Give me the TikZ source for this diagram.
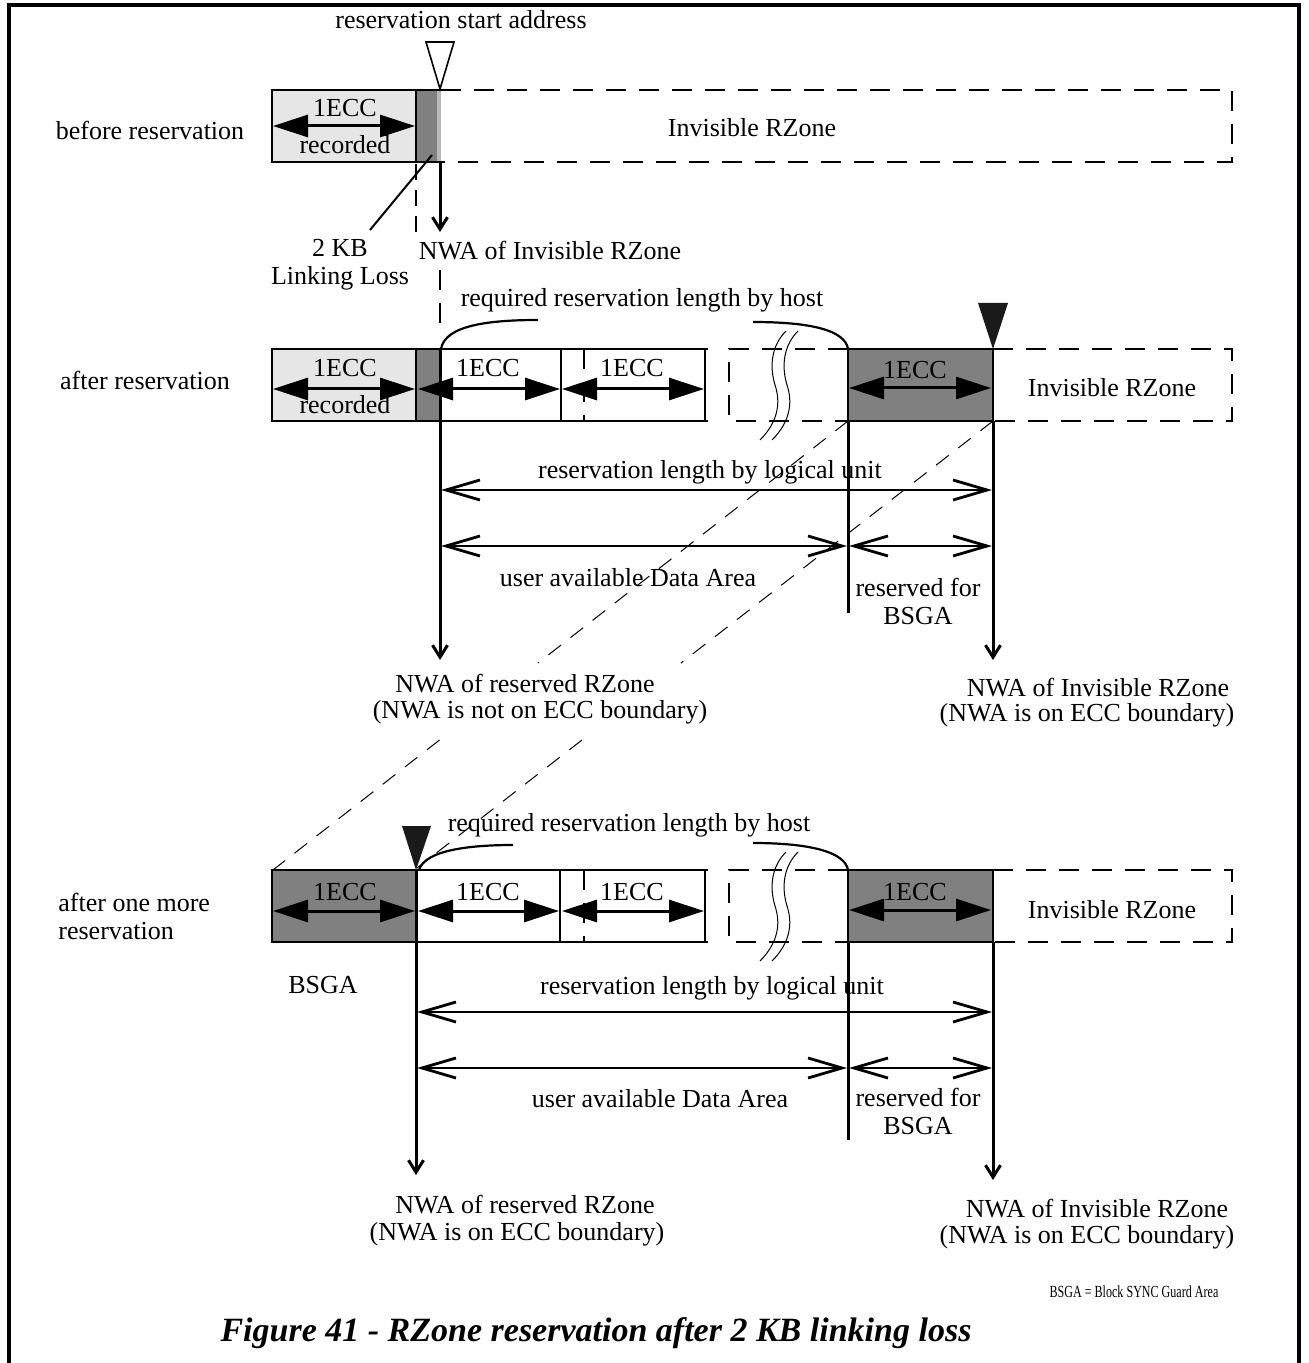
\documentclass[tikz,border=0pt]{standalone}
\usepackage{fontspec}
\setmainfont{Liberation Serif}
\usetikzlibrary{arrows.meta}
\definecolor{dkgray}{HTML}{808080}
\definecolor{ltgray}{HTML}{E6E6E6}
\definecolor{trifill}{HTML}{1A1A1A}
\begin{document}
\begin{tikzpicture}[x=0.5pt,y=-0.5pt,
  txt/.style={inner sep=0pt, font=\fontsize{13}{14}\selectfont, align=center},
  boxline/.style={line width=1.4pt},
  dashbox/.style={line width=1.4pt, dash pattern=on 10pt off 6.5pt},
  ecc/.style={line width=1.5pt, {Triangle[length=17.5pt,width=11pt]}-{Triangle[length=17.5pt,width=11pt]}},
  dim/.style={line width=1.4pt, {Straight Barb[length=17pt,width=10pt]}-{Straight Barb[length=17pt,width=10pt]}},
  downarr/.style={line width=1.5pt, -{Straight Barb[length=6pt,width=7.5pt]}},
  vbar/.style={line width=1.5pt},
  guide/.style={line width=0.5pt, dash pattern=on 8pt off 6pt},
  bracket/.style={line width=1.1pt},
  squig/.pic={
    \draw[line width=0.5pt] (0,109) .. controls (20,89) and (20,69) .. (15,54) .. controls (9,34) and (12,14) .. (26,0);
    \draw[line width=0.5pt] (12,109) .. controls (32,89) and (32,69) .. (27,54) .. controls (21,34) and (24,14) .. (38,0);
  }
]
\useasboundingbox (0,0) rectangle (1308,1363);
% frame
\draw[line width=1.6pt] (9,1363) -- (9,5) -- (1299,5) -- (1299,1363);

% ================= Row 1 =================
\node[txt] (lbl1) at (150,130) {before reservation};
\fill[ltgray] (272,90) rectangle (416,162);
\fill[dkgray] (416,90) rectangle (437,162);
\fill[gray!55] (437,90) rectangle (441,162);
\draw[boxline] (441,90) -- (272,90) -- (272,162) -- (441,162);
\draw[boxline] (416,90) -- (416,162);
\draw[dashbox] (441,90) -- (1232,90) -- (1232,162) -- (441,162);
\draw[ecc] (273,126) -- (415,126);
\node[txt] at (345,108) {1ECC};
\node[txt] at (345,145) {recorded};
\node[txt] at (752,128) {Invisible RZone};
\draw[line width=0.8pt, fill=white] (426,42) -- (454,42) -- (440,89) -- cycle;
\node[txt] (rsa) at (461,20) {reservation start address};
\coordinate (r1top) at (440,162);
\coordinate (r1nwa) at (440,232);
\draw[downarr] (r1top) -- (r1nwa);
\node[txt] (nwa1) at (550,251) {NWA of Invisible RZone};
\draw[line width=1.4pt, dash pattern=on 8pt off 5pt] (416,164) -- (416,232);
\node[txt] (ll) at (340,265) {2 KB\\Linking Loss};
\draw[line width=1pt] (370,230) -- (432,155);
\draw[dashbox] (440,270) -- (440,330);

% ================= Row 2 =================
\node[txt] (lbl2) at (145,380) {after reservation};
\fill[ltgray] (272,349) rectangle (416,421);
\fill[dkgray] (416,349) rectangle (440,421);
\draw[boxline] (708,349) -- (272,349) -- (272,421) -- (708,421);
\draw[boxline] (416,349) -- (416,421);
\draw[boxline] (561,349) -- (561,421);
\draw[boxline] (705,349) -- (705,421);
\draw[dashbox] (584,349) -- (584,421);
\draw[dashbox] (848,349) -- (729,349) -- (729,421) -- (848,421);
\filldraw[fill=dkgray, boxline] (848,349) rectangle (993,421);
\draw[dashbox] (993,349) -- (1232,349) -- (1232,421) -- (993,421);
\draw[ecc] (273,389) -- (415,389);
\draw[ecc] (418,389) -- (560,389);
\draw[ecc] (562,389) -- (704,389);
\draw[ecc] (849,388) -- (991,388);
\node[txt] at (345,368) {1ECC};
\node[txt] at (345,405) {recorded};
\node[txt] at (488,368) {1ECC};
\node[txt] at (632,368) {1ECC};
\node[txt] at (915,370) {1ECC};
\node[txt] at (1112,388) {Invisible RZone};
\fill[trifill] (978,303) -- (1008,303) -- (993,349) -- cycle;
\node[txt] (req2) at (642,300) {required reservation length by host};
\draw[bracket] (441,349) .. controls (445,325) and (490,320) .. (538,320);
\draw[bracket] (753,322) .. controls (810,322) and (845,330) .. (848,349);
\pic at (760,331) {squig};
% verticals row 2
\coordinate (r2a) at (440,349);
\coordinate (r2nwa) at (440,660);
\coordinate (r2b) at (848,421);
\coordinate (r2bend) at (848,613);
\coordinate (r2c) at (993,421);
\coordinate (r2inv) at (993,660);
\draw[downarr] (r2a) -- (r2nwa);
\draw[vbar] (r2b) -- (r2bend);
\draw[downarr] (r2c) -- (r2inv);
% dimensions row 2
\draw[dim] (441,490) -- (992,490);
\node[txt] at (710,472) {reservation length by logical unit};
\draw[dim] (441,546) -- (847,546);
\node[txt] at (628,578) {user available Data Area};
\draw[dim] (849,546) -- (992,546);
\node[txt] at (918,601) {reserved for\\BSGA};
\node[txt] at (525,684) {NWA of reserved RZone};
\node[txt] at (540,712) {(NWA is not on ECC boundary)};
\node[txt] at (1098,688) {NWA of Invisible RZone};
\node[txt] at (1087,715) {(NWA is on ECC boundary)};

% diagonal guides
\draw[guide] (848,421) -- (538,663);
\draw[guide] (439.5,740) -- (273,870);
\draw[guide] (993,421) -- (681,663);
\draw[guide] (582,740) -- (417,868);

% ================= Row 3 =================
\node[txt, anchor=west, align=left] (lbl3) at (58,916) {after one more\\reservation};
\node[txt] at (323,985) {BSGA};
\filldraw[fill=dkgray, boxline] (272,870) rectangle (416,942);
\draw[boxline] (416,870) -- (708,870);
\draw[boxline] (416,942) -- (708,942);
\draw[boxline] (560,870) -- (560,942);
\draw[boxline] (705,870) -- (705,942);
\draw[dashbox] (584,870) -- (584,942);
\draw[dashbox] (848,870) -- (729,870) -- (729,942) -- (848,942);
\filldraw[fill=dkgray, boxline] (848,870) rectangle (993,942);
\draw[dashbox] (993,870) -- (1232,870) -- (1232,942) -- (993,942);
\draw[ecc] (273,911) -- (415,911);
\draw[ecc] (418,911) -- (559,911);
\draw[ecc] (562,911) -- (704,911);
\draw[ecc] (849,910) -- (991,910);
\node[txt] at (345,892) {1ECC};
\node[txt] at (488,892) {1ECC};
\node[txt] at (632,892) {1ECC};
\node[txt] at (915,892) {1ECC};
\node[txt] at (1112,910) {Invisible RZone};
\fill[trifill] (402,826) -- (431,826) -- (416,870) -- cycle;
\node[txt] (req3) at (629,825) {required reservation length by host};
\draw[bracket] (419,870) .. controls (425,850) and (470,845) .. (513,845);
\draw[bracket] (753,843) .. controls (810,843) and (845,852) .. (848,870);
\pic at (760,852) {squig};
% verticals row 3
\coordinate (r3a) at (416,870);
\coordinate (r3nwa) at (416,1175);
\coordinate (r3b) at (848,942);
\coordinate (r3bend) at (848,1140);
\coordinate (r3c) at (993,942);
\coordinate (r3inv) at (993,1180);
\draw[downarr] (r3a) -- (r3nwa);
\draw[vbar] (r3b) -- (r3bend);
\draw[downarr] (r3c) -- (r3inv);
% dimensions row 3
\draw[dim] (417,1012) -- (992,1012);
\node[txt] at (712,988) {reservation length by logical unit};
\draw[dim] (417,1068) -- (847,1068);
\node[txt] at (660,1099) {user available Data Area};
\draw[dim] (849,1068) -- (992,1068);
\node[txt] at (918,1111) {reserved for\\BSGA};
\node[txt] at (525,1205) {NWA of reserved RZone};
\node[txt] at (517,1234) {(NWA is on ECC boundary)};
\node[txt] at (1097,1209) {NWA of Invisible RZone};
\node[txt] at (1087,1237) {(NWA is on ECC boundary)};

% legend and caption
\node[inner sep=0pt, font=\fontsize{8.5}{10}\selectfont] at (1134,1292) {\scalebox{0.71}[1]{BSGA = Block SYNC Guard Area}};
\node[inner sep=0pt, font=\fontsize{17}{20}\selectfont\bfseries\itshape] at (596,1333) {Figure 41 - RZone reservation after 2 KB linking loss};
\end{tikzpicture}
\end{document}
